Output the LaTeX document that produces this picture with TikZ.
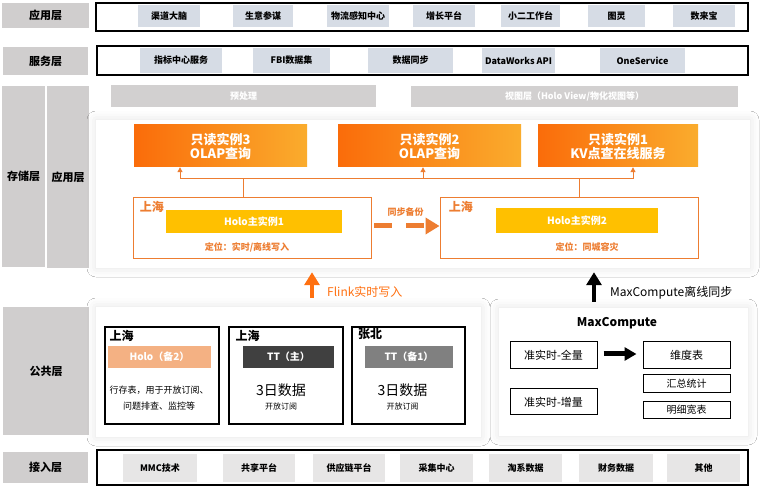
\documentclass[tikz,border=0pt]{standalone}
\usepackage{fontspec}
\setmainfont{Noto Sans CJK SC}
\usepackage{xcolor}
\usepackage{tikz}
\usetikzlibrary{arrows.meta, positioning, shadows.blur}
\definecolor{capagris}{RGB}{208,206,206}
\definecolor{itemazul}{RGB}{214,220,229}
\definecolor{itemclaro}{RGB}{231,230,230}
\definecolor{naranja}{RGB}{237,125,49}
\definecolor{naranjaosc}{RGB}{250,108,10}
\definecolor{naranjacla}{RGB}{250,172,45}
\definecolor{amarillo}{RGB}{255,192,0}
\definecolor{salmon}{RGB}{244,177,131}
\definecolor{grisosc}{RGB}{64,64,64}
\definecolor{grismed}{RGB}{128,128,128}
\definecolor{flink}{RGB}{255,112,16}
\tikzset{
  capa/.style={rectangle, fill=capagris, align=center,
    font=\bfseries\fontsize{11}{12}\selectfont},
  marco/.style={rectangle, draw=black, line width=1.2pt},
  elem/.style={rectangle, fill=itemazul, minimum height=22pt,
    font=\bfseries\fontsize{9}{10}\selectfont},
  elemb/.style={elem, fill=itemclaro, minimum height=28pt},
  barra/.style={rectangle, fill=capagris!95, text=white, minimum height=22pt,
    font=\bfseries\fontsize{9}{10}\selectfont},
  panel/.style={rectangle, fill=white, blur shadow={shadow xshift=0pt,
    shadow yshift=0pt, shadow blur radius=9pt, shadow opacity=11}},
  lectura/.style={rectangle, left color=naranjaosc, right color=naranjacla,
    text=white, align=center, minimum height=42pt,
    font=\bfseries\fontsize{13}{14}\selectfont},
  region/.style={rectangle, draw=naranja, line width=0.9pt, minimum height=61pt},
  maestro/.style={rectangle, fill=amarillo, text=white,
    font=\bfseries\fontsize{10}{11}\selectfont},
  etiqnar/.style={text=naranja, inner sep=0pt,
    font=\bfseries\fontsize{9}{10}\selectfont},
  ciudad/.style={inner sep=0pt, font=\bfseries\fontsize{12}{13}\selectfont},
  caja/.style={rectangle, draw=black, line width=1.2pt,
    minimum width=114pt, minimum height=97pt},
  tira/.style={rectangle, text=white, minimum height=22pt,
    font=\bfseries\fontsize{10}{11}\selectfont},
  tabla/.style={rectangle, draw=black, line width=1pt, minimum width=87pt,
    font=\fontsize{11}{12}\selectfont},
  conec/.style={draw=naranja, line width=1pt},
  flecha/.style={conec, -{Triangle[length=5pt,width=5pt]}},
  respaldo/.style={draw=naranja, line width=5pt, dash pattern=on 18pt off 14pt,
    shorten <=3pt, -{Triangle[length=14pt,width=16pt]}},
  subida/.style={line width=4pt, -{Triangle[length=13pt,width=15pt]}},
  etiq/.style={inner sep=0pt, anchor=west, font=\fontsize{12}{13}\selectfont}
}

\begin{document}
\begin{tikzpicture}[x=1pt, y=-1pt]
  \useasboundingbox[fill=white] (0,0) rectangle (777,486);

  % capa de aplicacion
  \node[capa, minimum width=87pt, minimum height=25pt] (capaApp) at (45.5,15.5) {应用层};
  \node[marco, minimum width=652pt, minimum height=28pt] (marcoApp) at (422,17) {};
  \node[elem, minimum width=62pt] (app1) at (169,16) {渠道大脑};
  \node[elem, minimum width=60pt] (app2) at (263,16) {生意参谋};
  \node[elem, minimum width=62pt] (app3) at (358,16) {物流感知中心};
  \node[elem, minimum width=62pt] (app4) at (444,16) {增长平台};
  \node[elem, minimum width=59pt] (app5) at (530.5,16) {小二工作台};
  \node[elem, minimum width=57pt] (app6) at (616.5,16) {图灵};
  \node[elem, minimum width=62pt] (app7) at (704,16) {数来宝};

  % capa de servicio
  \node[capa, minimum width=85pt, minimum height=28pt] (capaSrv) at (45.5,61) {服务层};
  \node[marco, minimum width=651pt, minimum height=29pt] (marcoSrv) at (422.5,60.5) {};
  \node[elem, minimum width=82pt, minimum height=25pt] (srv1) at (181,60.5) {指标中心服务};
  \node[elem, minimum width=77pt, minimum height=25pt] (srv2) at (291.5,60.5) {FBI数据集};
  \node[elem, minimum width=85pt, minimum height=25pt] (srv3) at (410.5,60.5) {数据同步};
  \node[elem, minimum width=69pt, minimum height=25pt] (srv4) at (518.5,60.5) {DataWorks API};
  \node[elem, minimum width=85pt, minimum height=25pt] (srv5) at (642.5,60.5) {OneService};

  % capa de almacenamiento
  \node[capa, minimum width=43pt, minimum height=181pt] (capaAlm) at (23.5,176.5) {存储层};
  \node[capa, minimum width=42pt, minimum height=182pt] (capaAlmApp) at (68,177) {应用层};
  \node[barra, minimum width=265pt] (prep) at (243.5,96) {预处理};
  \node[barra, minimum width=327pt, minimum height=21pt] (vista) at (574.5,96.5) {视图层（Holo View/物化视图等）};
  \node[panel, minimum width=654pt, minimum height=148pt] (palm) at (423,194) {};
  \node[lectura, minimum width=173pt] (ro3) at (220.5,146) {只读实例3\\OLAP查询};
  \node[lectura, minimum width=183pt] (ro2) at (429.5,146) {只读实例2\\OLAP查询};
  \node[lectura, minimum width=160pt] (ro1) at (618,146) {只读实例1\\KV点查在线服务};
  \node[region, minimum width=238pt] (reg1) at (252,227.5) {};
  \node[region, minimum width=258pt] (reg2) at (569,227.5) {};
  \node[etiqnar, ciudad, text=naranja, below right=4pt and 7pt of reg1.north west] (sh1) {上海};
  \node[etiqnar, ciudad, text=naranja, below right=4pt and 9pt of reg2.north west] (sh2) {上海};
  \node[maestro, minimum width=176pt, minimum height=23pt] (holo1) at (254,221.5) {Holo主实例1};
  \node[maestro, minimum width=162pt, minimum height=25pt] (holo2) at (577,220.5) {Holo主实例2};
  \node[etiqnar] (pos1) at (247,247) {定位：实时/离线写入};
  \node[etiqnar] (pos2) at (587,247) {定位：同城容灾};

  \coordinate (bus) at (0,179);
  \draw[conec] ([xshift=-40.5pt]ro3.south |- bus) -- ([xshift=15pt]ro1.south |- bus);
  \draw[flecha] ([xshift=-40.5pt]ro3.south |- bus) -- ([xshift=-40.5pt]ro3.south);
  \draw[flecha] ([xshift=-6.5pt]ro2.south |- bus) -- ([xshift=-6.5pt]ro2.south);
  \draw[flecha] ([xshift=15pt]ro1.south |- bus) -- ([xshift=15pt]ro1.south);
  \draw[conec] ([xshift=-9pt]reg1.north) -- ([xshift=-9pt]reg1.north |- bus);
  \draw[conec] ([xshift=10pt]reg2.north) -- ([xshift=10pt]reg2.north |- bus);
  \draw[respaldo] ([yshift=1.5pt]reg1.east) -- ([yshift=1.5pt]reg2.west)
    node[etiqnar, midway, above=7pt] (sync) {同步备份};

  % capa comun
  \node[capa, minimum width=86pt, minimum height=128pt] (capaCom) at (46,371) {公共层};
  \node[panel, minimum width=385pt, minimum height=130pt] (pcomun) at (288.5,372) {};
  \node[caja] (cajaA) at (162,375.5) {};
  \node[caja] (cajaB) at (286,375.5) {};
  \node[caja, minimum width=113pt] (cajaC) at (408.5,375.5) {};
  \node[ciudad] (cA) at (121.5,335.5) {上海};
  \node[ciudad] (cB) at (247.5,335.5) {上海};
  \node[ciudad] (cC) at (370,334.5) {张北};
  \node[tira, fill=salmon, minimum width=103pt] (tA) at (159.5,357) {Holo（备2）};
  \node[tira, fill=grisosc, minimum width=91pt] (tB) at (288.5,357) {TT（主）};
  \node[tira, fill=grismed, minimum width=88pt] (tC) at (409,357) {TT（备1）};
  \node[align=center, inner sep=0pt, font=\fontsize{9}{16}\selectfont] (descA) at (159,398)
    {行存表，用于开放订阅、\\问题排查、监控等};
  \node[inner sep=0pt, font=\fontsize{14}{15}\selectfont] (diasB) at (281,390) {3日数据};
  \node[inner sep=0pt, font=\fontsize{8}{9}\selectfont, below=6pt of diasB] (subB) {开放订阅};
  \node[inner sep=0pt, font=\fontsize{14}{15}\selectfont] (diasC) at (402.5,390) {3日数据};
  \node[inner sep=0pt, font=\fontsize{8}{9}\selectfont, below=6pt of diasC] (subC) {开放订阅};

  % MaxCompute
  \node[panel, minimum width=249pt, minimum height=128pt] (pmax) at (623.5,372) {};
  \node[inner sep=0pt, font=\bfseries\fontsize{12}{13}\selectfont] (mctit) at (617,323) {MaxCompute};
  \node[tabla, minimum height=27pt] (qa) at (553.5,355.5) {准实时-全量};
  \node[tabla, minimum height=26pt] (qb) at (553.5,402) {准实时-增量};
  \node[tabla, minimum height=27pt] (wd) at (686.5,355.5) {维度表};
  \node[tabla, minimum height=18pt, font=\fontsize{10}{11}\selectfont] (hz) at (686.5,384) {汇总统计};
  \node[tabla, minimum height=16pt, font=\fontsize{10}{11}\selectfont] (mx) at (686.5,410) {明细宽表};
  \draw[line width=5pt, -{Triangle[length=12pt,width=13pt]}, shorten <=6pt, shorten >=6pt]
    ([yshift=1.5pt]qa.east) -- ([yshift=1.5pt]wd.west);

  % flechas hacia almacenamiento
  \draw[subida, draw=flink, shorten <=9pt, shorten >=4pt]
    ([xshift=23.5pt]pcomun.north) -- ([xshift=23.5pt]pcomun.north |- palm.south);
  \node[etiq, text=flink] (flinktxt) at (327,292) {Flink实时写入};
  \draw[subida, draw=black, shorten <=6pt, shorten >=4pt]
    ([xshift=-29.5pt]pmax.north) -- ([xshift=-29.5pt]pmax.north |- palm.south);
  \node[etiq] (mctxt) at (610,293) {MaxCompute离线同步};

  % capa de acceso
  \node[capa, minimum width=85pt, minimum height=31pt] (capaAcc) at (45.5,467.5) {接入层};
  \node[marco, minimum width=651pt, minimum height=35pt] (marcoAcc) at (422.5,467.5) {};
  \node[elemb, minimum width=74pt] (acc1) at (160,468) {MMC技术};
  \node[elemb, minimum width=72pt] (acc2) at (259,468) {共享平台};
  \node[elemb, minimum width=72pt] (acc3) at (349,468) {供应链平台};
  \node[elemb, minimum width=73pt] (acc4) at (436.5,468) {采集中心};
  \node[elemb, minimum width=73pt] (acc5) at (525.5,468) {淘系数据};
  \node[elemb, minimum width=74pt] (acc6) at (616,468) {财务数据};
  \node[elemb, minimum width=73pt] (acc7) at (703.5,468) {其他};
\end{tikzpicture}
\end{document}
